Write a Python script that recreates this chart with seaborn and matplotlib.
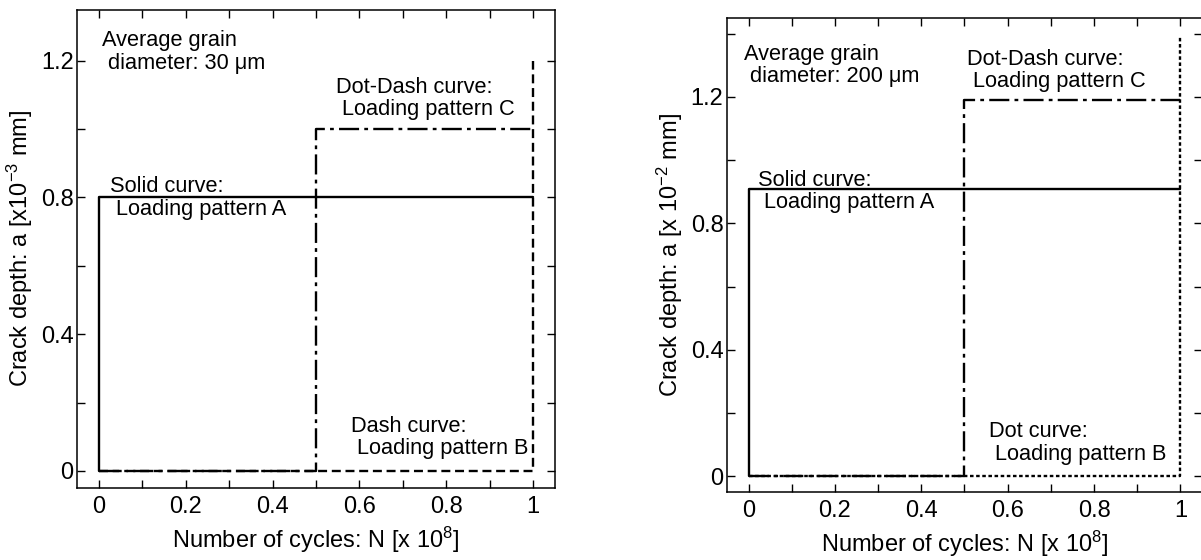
import matplotlib
matplotlib.use("Agg")
import matplotlib.pyplot as plt
from matplotlib.ticker import MultipleLocator, FixedLocator
import seaborn as sns
import pandas as pd

# Step paths of crack depth versus number of cycles (x 10^8)
cycles_A = [0.0, 0.0, 1.0]
cycles_B = [0.0, 1.0, 1.0]
cycles_C = [0.0, 0.5, 0.5, 1.0]

# Average grain diameter 30 um (depth in 10^-3 mm)
depth_A_30 = [0.0, 0.8, 0.8]
depth_B_30 = [0.0, 0.0, 1.2]
depth_C_30 = [0.0, 0.0, 1.0, 1.0]

# Average grain diameter 200 um (depth in 10^-2 mm)
depth_A_200 = [0.0, 0.91, 0.91]
depth_B_200 = [0.0, 0.0, 1.39]
depth_C_200 = [0.0, 0.0, 1.19, 1.19]

x_ticklabels = ["0", "0.2", "0.4", "0.6", "0.8", "1"]
y_ticklabels = ["0", "0.4", "0.8", "1.2"]

sns.set_theme(style="ticks")
plt.rcParams["font.family"] = ["Liberation Sans", "DejaVu Sans"]
plt.rcParams["mathtext.fontset"] = "custom"
plt.rcParams["mathtext.rm"] = "Liberation Sans"
plt.rcParams["mathtext.it"] = "Liberation Sans:italic"
plt.rcParams["mathtext.bf"] = "Liberation Sans:bold"
plt.rcParams["text.color"] = "black"
plt.rcParams["axes.labelcolor"] = "black"
plt.rcParams["xtick.color"] = "black"
plt.rcParams["ytick.color"] = "black"

FS_TICK = 17
FS_LABEL = 17
FS_NOTE = 15.7

fig = plt.figure(figsize=(12.01, 5.60), dpi=100)
ax1 = fig.add_axes([0.0641, 0.1286, 0.3980, 0.8544])
ax2 = fig.add_axes([0.6053, 0.1214, 0.3955, 0.8465])

dashdot = (0, (8.5, 2.2, 1.6, 2.2))
dash_B = (0, (3.8, 2.0))
dot_B = (0, (1.5, 1.1))
LW = 1.7


def draw_path(ax, xs, ys, style):
    df = pd.DataFrame({"N": xs, "a": ys})
    sns.lineplot(data=df, x="N", y="a", ax=ax, sort=False, estimator=None,
                 color="black", linewidth=LW, linestyle=style)


def style_axes(ax, ymax, ylabel):
    ax.set_xlim(-0.05, 1.05)
    ax.set_ylim(-0.05, ymax)
    ax.xaxis.set_major_locator(FixedLocator([0, 0.2, 0.4, 0.6, 0.8, 1.0]))
    ax.set_xticklabels(x_ticklabels)
    ax.xaxis.set_minor_locator(MultipleLocator(0.1))
    ax.yaxis.set_major_locator(FixedLocator([0, 0.4, 0.8, 1.2]))
    ax.set_yticklabels(y_ticklabels)
    ax.yaxis.set_minor_locator(MultipleLocator(0.2))
    ax.tick_params(which="both", direction="in", top=True, right=True,
                   length=5.5, width=1.0, color="black", labelsize=FS_TICK,
                   labelcolor="black")
    ax.tick_params(axis="x", which="both", pad=6)
    ax.tick_params(axis="y", which="both", pad=2.5)
    for sp in ax.spines.values():
        sp.set_linewidth(1.1)
        sp.set_color("black")
    ax.set_xlabel(r"Number of cycles: N [x 10$^{8}$]", fontsize=FS_LABEL,
                  color="black", labelpad=5)
    ax.set_ylabel(ylabel, fontsize=FS_LABEL, color="black", labelpad=4)


def note(ax, x, y, s):
    ax.text(x, y, s, fontsize=FS_NOTE, va="top", ha="left", linespacing=1.08)


# Left panel: 30 um grains
draw_path(ax1, cycles_B, depth_B_30, dash_B)
draw_path(ax1, cycles_C, depth_C_30, dashdot)
draw_path(ax1, cycles_A, depth_A_30, "-")
style_axes(ax1, 1.35, r"Crack depth: a [x10$^{-3}$ mm]")

note(ax1, 0.007, 1.289, "Average grain\n diameter: 30 \u03bcm")
note(ax1, 0.546, 1.152, "Dot-Dash curve:\n Loading pattern C")
note(ax1, 0.025, 0.862, "Solid curve:\n Loading pattern A")
note(ax1, 0.58, 0.160, "Dash curve:\n Loading pattern B")

# Right panel: 200 um grains
draw_path(ax2, cycles_B, depth_B_200, dot_B)
draw_path(ax2, cycles_C, depth_C_200, dashdot)
draw_path(ax2, cycles_A, depth_A_200, "-")
style_axes(ax2, 1.45, r"Crack depth: a [x 10$^{-2}$ mm]")
ax2.yaxis.set_minor_locator(FixedLocator([0.2, 0.6, 1.0, 1.4]))

note(ax2, -0.01, 1.369, "Average grain\n diameter: 200 \u03bcm")
note(ax2, 0.507, 1.353, "Dot-Dash curve:\n Loading pattern C")
note(ax2, 0.023, 0.969, "Solid curve:\n Loading pattern A")
note(ax2, 0.556, 0.174, "Dot curve:\n Loading pattern B")

fig.savefig("out.png", dpi=100)
